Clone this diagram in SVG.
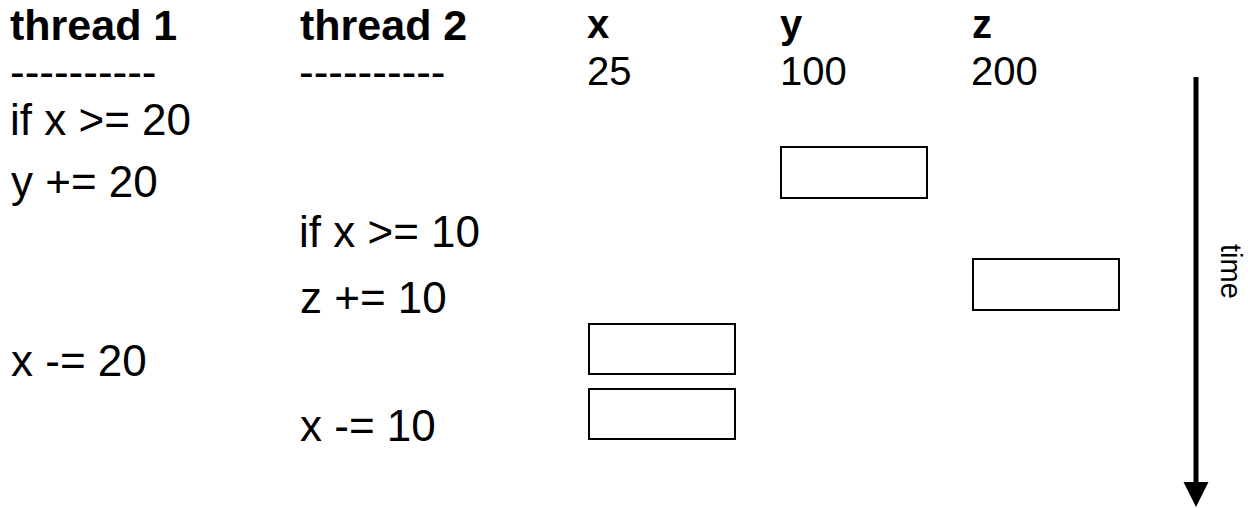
<svg xmlns="http://www.w3.org/2000/svg" width="1248" height="508" viewBox="0 0 1248 508">
<style>
text{font-family:"Liberation Sans",Arial,Helvetica,sans-serif;font-size:44px;fill:#000}
.h{font-weight:bold;font-size:43px}
.v{font-weight:bold;font-size:40px}
.n{font-size:40px}
.box{fill:#fff;stroke:#000;stroke-width:2}
.t{font-size:29px}
</style>
<defs>
<marker id="ah" markerUnits="userSpaceOnUse" markerWidth="26" markerHeight="26" viewBox="0 0 26 26" refX="0" refY="13" orient="auto">
<path d="M0,0.5 L25,13 L0,25.5 Z" fill="#000"/>
</marker>
</defs>
<rect width="1248" height="508" fill="#fff"/>
<g id="headers">
<text class="h" x="10" y="40">thread 1</text>
<text class="h" x="300" y="40">thread 2</text>
<text x="10" y="87">----------</text>
<text x="299" y="87">----------</text>
<text class="v" x="587" y="38">x</text>
<text class="v" x="780" y="38">y</text>
<text class="v" x="972" y="38">z</text>
<text class="n" x="587" y="85">25</text>
<text class="n" x="780" y="85">100</text>
<text class="n" x="971" y="85">200</text>
</g>
<g id="thread1">
<text x="10" y="135">if x &gt;= 20</text>
<text x="11" y="197">y += 20</text>
<text x="11" y="376">x -= 20</text>
</g>
<g id="thread2">
<text x="299" y="247">if x &gt;= 10</text>
<text x="300" y="313">z += 10</text>
<text x="300" y="441">x -= 10</text>
</g>
<g id="box-y1"><rect class="box" x="781" y="147" width="146" height="51"/></g>
<g id="box-z1"><rect class="box" x="973" y="259" width="146" height="51"/></g>
<g id="box-x1"><rect class="box" x="589" y="324" width="146" height="50"/></g>
<g id="box-x2"><rect class="box" x="589" y="389" width="146" height="50"/></g>
<g id="connectors">
<line x1="1196" y1="77" x2="1196" y2="482" stroke="#000" stroke-width="5" marker-end="url(#ah)"/>
</g>
<g id="time-label">
<text class="t" transform="translate(1221,244) rotate(90)">time</text>
</g>
</svg>
